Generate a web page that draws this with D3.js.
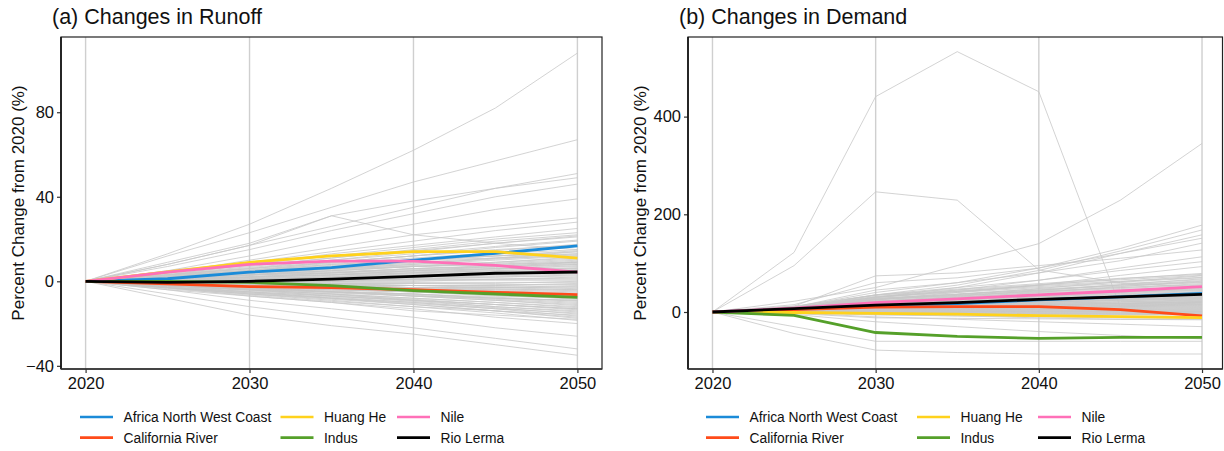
<!DOCTYPE html>
<html>
<head>
<meta charset="utf-8">
<script src="https://cdn.jsdelivr.net/npm/d3@7"></script>
<style>
  html, body { margin: 0; padding: 0; background: #fff; }
  svg { display: block; font-family: "Liberation Sans", Arial, sans-serif; }
</style>
</head>
<body>
<svg id="chart" width="1224" height="451"></svg>
<script>
// Projection years (5-year steps)
const years = [2020, 2025, 2030, 2035, 2040, 2045, 2050];
const yearTicks = [2020, 2030, 2040, 2050];

// Highlighted basins and their colours
const regions = ["Africa North West Coast", "California River", "Huang He", "Indus", "Nile", "Rio Lerma"];
const regionColors = ["#1B8BD8", "#FF4B1A", "#FFD21C", "#55A02A", "#FF70B8", "#000000"];

// Runoff change (%) for highlighted basins, in region order
const runoffAfrica = [0, 1.2, 4.3, 6.5, 10, 13.2, 16.8];
const runoffCalifornia = [0, -1.2, -2.5, -3, -4, -5.2, -6.3];
const runoffHuangHe = [0, 4.5, 9, 12, 14, 14, 11];
const runoffIndus = [0, 0, -0.5, -2, -4.4, -6, -7.6];
const runoffNile = [0, 4.3, 8, 9.5, 9.5, 7.5, 4.3];
const runoffRioLerma = [0, -0.5, 0, 1, 2.3, 3.8, 4.4];

// Demand change (%) for highlighted basins, in region order
const demandAfrica = [0, 6, 12, 17, 25, 31, 38];
const demandCalifornia = [0, 5, 10, 11, 11, 5, -8];
const demandHuangHe = [0, -1, -3, -4.5, -7.5, -9.5, -11.5];
const demandIndus = [0, -7, -42, -50, -54, -52, -52];
const demandNile = [0, 8, 19, 27, 35, 43, 52];
const demandRioLerma = [0, 7, 14, 19, 26, 31, 36];

// Runoff change (%) for all other basins
const runoffOthers = [
  [0, 13, 27, 44, 62, 82, 108],
  [0, 12, 23, 35, 47, 57, 67],
  [0, 8, 17, 26, 35, 44, 51],
  [0, 9, 18, 31, 38, 44, 49],
  [0, 7, 15, 24, 32, 40, 46],
  [0, 5, 12, 20, 27, 34, 39],
  [0, 8, 17, 31, 22, 18, 15],
  [0, 4, 10, 16, 22, 26, 30],
  [0, 5, 9, 14, 19, 24, 28],
  [0, 3, 8, 13, 17, 21, 25],
  [0, 4, 8, 12, 16, 20, 23],
  [0, 3, 6, 10, 14, 18, 21],
  [0, 2, 5, 9, 12, 16, 19],
  [0, 3, 6, 9, 12, 15, 17],
  [0, 2, 4, 7, 10, 13, 15],
  [0, 2, 5, 8, 10, 12, 14],
  [0, 1, 3, 6, 8, 11, 13],
  [0, 2, 4, 6, 8, 10, 12],
  [0, 1, 3, 5, 7, 9, 11],
  [0, 2, 3, 5, 7, 8, 10],
  [0, 1, 2, 4, 6, 7, 9],
  [0, 1, 2, 3, 5, 6, 8],
  [0, 1, 2, 3, 4, 6, 7],
  [0, 0, 1, 2, 4, 5, 6],
  [0, 1, 1, 2, 3, 4, 5],
  [0, 0, 1, 1, 2, 3, 4],
  [0, 0, 0, 1, 1, 2, 3],
  [0, 0, 0, 0, 1, 1, 2],
  [0, 0, 0, 0, 0, 1, 1],
  [0, 0, -1, -1, -1, -1, 0],
  [0, 0, -1, -1, -2, -2, -1],
  [0, -1, -1, -2, -2, -3, -2],
  [0, -1, -1, -2, -3, -3, -3],
  [0, -1, -2, -2, -3, -4, -4],
  [0, -1, -2, -3, -4, -4, -5],
  [0, -1, -2, -3, -4, -5, -6],
  [0, -1, -2, -4, -5, -6, -7],
  [0, -1, -3, -4, -5, -7, -8],
  [0, -2, -3, -5, -6, -8, -9],
  [0, -2, -3, -5, -7, -8, -10],
  [0, -2, -4, -5, -7, -9, -11],
  [0, -2, -4, -6, -8, -10, -12],
  [0, -2, -4, -7, -9, -11, -13],
  [0, -2, -5, -7, -9, -12, -14],
  [0, -3, -5, -8, -10, -13, -15],
  [0, -3, -6, -8, -11, -14, -16],
  [0, -3, -6, -9, -12, -14, -17],
  [0, -4, -7, -10, -13, -17, -20],
  [0, -4, -9, -13, -17, -22, -26],
  [0, -6, -12, -17, -22, -27, -32],
  [0, -8, -16, -21, -25, -30, -35],
  [0, -3, -7, -10, -14, -16, -18],
  [0, 2, 5, 7, 10, 11, 12],
  [0, 1, 3, 4, 6, 7, 8],
  [0, 3, 5, 8, 10, 12, 13],
  [0, -1, -3, -5, -6, -8, -9],
  [0, -2, -4, -6, -9, -11, -13],
  [0, 1, 2, 4, 5, 6, 6],
  [0, -1, -1, -2, -3, -3, -4],
  [0, 2, 4, 6, 7, 8, 9],
  [0, 3, 7, 11, 15, 19, 22],
  [0, 1, 4, 6, 9, 11, 14],
  [0, -1, -2, -3, -5, -6, -7],
  [0, 0, 2, 3, 5, 7, 9],
  [0, 3.5, 7.5, 11, 14.5, 18, 21.5],
  [0, 3, 6.5, 10, 13, 16.5, 19.5],
  [0, 3, 6, 9, 12, 14.5, 17.5],
  [0, 2.5, 5.5, 8.5, 11, 13.5, 16.5],
  [0, 2.5, 5, 7.5, 10, 12, 14.5],
  [0, 2, 4.5, 6.5, 8.5, 10.5, 12.5],
  [0, 2, 4, 5.5, 7.5, 9, 11.5],
  [0, 1.5, 3.5, 5, 7, 8.5, 10.5],
  [0, 1.5, 3, 4.5, 6, 7.5, 9.5],
  [0, 1.5, 3, 4, 5.5, 6.5, 8.5],
  [0, 1, 2.5, 3.5, 4.5, 5.5, 7.5],
  [0, 1, 2, 3, 4, 5, 6.5],
  [0, 1, 1.5, 2.5, 3.5, 4.5, 5.5],
  [0, 0.5, 1.5, 2, 3, 3.5, 4.5],
  [0, 0.5, 1, 1.5, 2, 2.5, 3.5],
  [0, 0.5, 0.5, 1, 1.5, 2, 2.5],
  [0, 0, 0.5, 0.5, 1, 1, 1.5],
  [0, 0, 0, 0, 0.5, 0.5, 0.5],
  [0, 0, -0.5, -0.5, -0.5, -0.5, -0.5],
  [0, 0, -0.5, -1, -1, -1.5, -1.5],
  [0, -0.5, -1, -1.5, -2, -2, -2.5],
  [0, -0.5, -1, -1.5, -2, -2.5, -3.5],
  [0, -0.5, -1.5, -2, -3, -3.5, -4.5],
  [0, -0.5, -1.5, -2.5, -3.5, -4.5, -5.5],
  [0, -1, -2, -3, -4, -5.5, -6.5],
  [0, -1, -2, -3.5, -4.5, -6, -7.5],
  [0, -1, -2.5, -4, -5, -6.5, -8.5],
  [0, -1.5, -3, -4.5, -6, -7.5, -9.5],
  [0, -1.5, -3.5, -5, -6.5, -8.5, -10.5],
  [0, -2, -3.5, -5.5, -7, -9, -11.5],
  [0, -2, -4, -6, -8, -10, -12.5],
  [0, -2, -4.5, -6.5, -8.5, -11, -13.5],
  [0, -2.5, -5, -7, -9.5, -12, -14.5],
  [0, -2.5, -5.5, -7.5, -10, -12.5, -15.5],
  [0, -3, -5.5, -8, -10.5, -13, -16.5],
  [0, -3, -6, -8.5, -11, -14, -17.5],
  [0, -3.5, -6.5, -9.5, -12, -15, -18.5]
];

// Demand change (%) for all other basins
const demandOthers = [
  [0, 122, 441, 533, 451, 10, 20],
  [0, 95, 246, 229, 86, 60, 50],
  [0, 22, 50, 95, 140, 229, 345],
  [0, 10, 40, 60, 90, 130, 178],
  [0, 12, 35, 55, 85, 125, 168],
  [0, 8, 30, 50, 80, 120, 158],
  [0, 15, 60, 70, 90, 120, 151],
  [0, 10, 45, 60, 80, 105, 141],
  [0, 12, 74, 80, 95, 110, 127],
  [0, 8, 30, 45, 65, 90, 113],
  [0, 9, 35, 50, 65, 85, 103],
  [0, 6, 25, 40, 55, 75, 93],
  [0, 7, 30, 42, 55, 68, 79],
  [0, 6, 25, 36, 48, 62, 74],
  [0, 5, 22, 32, 44, 56, 68],
  [0, 5, 20, 30, 40, 52, 63],
  [0, 6, 26, 34, 42, 50, 58],
  [0, 4, 18, 26, 35, 44, 53],
  [0, 4, 16, 24, 32, 40, 48],
  [0, 5, 20, 26, 32, 38, 44],
  [0, 3, 14, 20, 27, 34, 40],
  [0, 4, 15, 20, 25, 30, 35],
  [0, 3, 12, 17, 22, 27, 32],
  [0, 3, 11, 15, 20, 24, 28],
  [0, 2, 9, 13, 17, 21, 25],
  [0, 2, 8, 12, 15, 18, 22],
  [0, 3, 10, 12, 15, 17, 19],
  [0, 2, 6, 9, 11, 14, 16],
  [0, 2, 5, 7, 9, 11, 13],
  [0, 1, 4, 6, 7, 9, 10],
  [0, 1, 3, 4, 5, 6, 7],
  [0, 1, 2, 3, 3, 4, 4],
  [0, 0, 1, 1, 1, 1, 1],
  [0, 0, -1, -1, -2, -2, -2],
  [0, -1, -2, -3, -4, -5, -5],
  [0, -1, -3, -4, -5, -6, -6],
  [0, 2, 6, 8, 10, 12, 14],
  [0, 3, 12, 16, 20, 25, 30],
  [0, 4, 16, 22, 28, 34, 38],
  [0, 0, -5, -8, -12, -15, -16],
  [0, -2, -10, -15, -20, -25, -30],
  [0, -5, -20, -30, -40, -48, -55],
  [0, -30, -60, -60, -60, -60, -60],
  [0, -44, -78, -83, -86, -86, -86],
  [0, -3, -12, -13, -14, -15, -15],
  [0, 1, 6, 10, 14, 18, 21],
  [0, 3, 14, 19, 24, 29, 34],
  [0, 2, 8, 11, 14, 17, 20],
  [0, 5, 22, 28, 35, 42, 48],
  [0, -1, -4, -6, -8, -10, -12],
  [0, 6, 28, 36, 45, 55, 64],
  [0, 4, 12, 18, 24, 30, 36],
  [0, 2, 7, 10, 12, 15, 18],
  [0, 1, 5, 8, 10, 13, 15],
  [0, 0, 0, -2, -3, -4, -5],
  [0, -2, -6, -8, -10, -12, -13],
  [0, 9, 35, 47, 58, 69, 77],
  [0, 8, 34, 45, 56, 66, 75],
  [0, 9, 32, 43, 54, 63, 71],
  [0, 8, 31, 42, 52, 61, 70],
  [0, 8, 30, 40, 50, 58, 66],
  [0, 7, 28, 37, 47, 55, 61],
  [0, 7, 27, 36, 45, 53, 60],
  [0, 7, 26, 34, 43, 50, 56],
  [0, 6, 25, 33, 41, 48, 55],
  [0, 6, 23, 31, 39, 46, 51],
  [0, 6, 22, 30, 37, 44, 50],
  [0, 5, 21, 28, 35, 41, 46],
  [0, 5, 20, 27, 34, 40, 45],
  [0, 5, 19, 25, 31, 37, 42],
  [0, 5, 18, 24, 30, 35, 41],
  [0, 4, 17, 22, 28, 33, 37],
  [0, 4, 16, 21, 26, 31, 35],
  [0, 4, 15, 20, 25, 29, 33],
  [0, 4, 14, 19, 23, 27, 31],
  [0, 3, 13, 17, 22, 26, 29],
  [0, 3, 12, 16, 20, 24, 27],
  [0, 3, 12, 16, 19, 23, 26],
  [0, 3, 11, 14, 18, 21, 24],
  [0, 3, 10, 14, 17, 20, 23],
  [0, 2, 9, 13, 16, 18, 21],
  [0, 2, 9, 11, 14, 17, 19],
  [0, 2, 8, 10, 13, 15, 17],
  [0, 2, 7, 9, 11, 13, 15],
  [0, 1, 5, 7, 9, 11, 12],
  [0, 1, 5, 7, 8, 10, 11],
  [0, 1, 4, 5, 7, 8, 9],
  [0, 1, 4, 5, 6, 7, 8],
  [0, 1, 3, 4, 5, 5, 6],
  [0, 1, 2, 3, 4, 4, 5],
  [0, 0, 1, 2, 2, 3, 3],
  [0, 0, 1, 1, 2, 2, 2],
  [0, 0, 0, 0, 0, 0, 0],
  [0, 0, 0, -1, -1, -1, -1],
  [0, 0, -1, -2, -2, -3, -3],
  [0, 0, -2, -2, -3, -4, -4]
];

// Axis ticks
const runoffTicks = [-40, 0, 40, 80];
const demandTicks = [0, 200, 400];

const panels = [
  {
    title: "(a) Changes in Runoff",
    left: 61, right: 602, top: 37, bottom: 369,
    yDomain: [-41.5, 115.6], yTicks: runoffTicks,
    highlights: [runoffAfrica, runoffCalifornia, runoffHuangHe, runoffIndus, runoffNile, runoffRioLerma],
    others: runoffOthers,
    yTitleX: 24,
    legendX: [80, 280.5, 397]
  },
  {
    title: "(b) Changes in Demand",
    left: 688, right: 1226.5, frameRight: 1222.5, top: 37, bottom: 369,
    yDomain: [-116.7, 563], yTicks: demandTicks,
    highlights: [demandAfrica, demandCalifornia, demandHuangHe, demandIndus, demandNile, demandRioLerma],
    others: demandOthers,
    yTitleX: 646,
    legendX: [706, 917, 1038]
  }
];

const svg = d3.select("#chart");

panels.forEach(p => {
  const x = d3.scaleLinear().domain([2018.5, 2051.5]).range([p.left, p.right]);
  const y = d3.scaleLinear().domain(p.yDomain).range([p.bottom, p.top]);
  const frameRight = p.frameRight || p.right;
  const g = svg.append("g");

  // vertical grid lines
  g.selectAll("line.grid").data(yearTicks).join("line")
    .attr("class", "grid")
    .attr("x1", d => x(d)).attr("x2", d => x(d))
    .attr("y1", p.top).attr("y2", p.bottom)
    .attr("stroke", "#cfcfcf").attr("stroke-width", 1.4);

  const line = d3.line().x((d, i) => x(years[i])).y(d => y(d));

  // all basins in grey
  g.append("g").selectAll("path").data(p.others).join("path")
    .attr("d", line)
    .attr("fill", "none")
    .attr("stroke", "#c8c8c8")
    .attr("stroke-width", 0.8);

  // highlighted basins
  g.append("g").selectAll("path").data(p.highlights).join("path")
    .attr("d", line)
    .attr("fill", "none")
    .attr("stroke", (d, i) => regionColors[i])
    .attr("stroke-width", 2.8)
    .attr("stroke-linejoin", "round");

  // panel frame
  g.append("rect")
    .attr("x", p.left).attr("y", p.top)
    .attr("width", frameRight - p.left).attr("height", p.bottom - p.top)
    .attr("fill", "none").attr("stroke", "#222").attr("stroke-width", 1.2);

  // axes
  const xAxis = d3.axisBottom(x).tickValues(yearTicks).tickFormat(d3.format("d")).tickSize(4).tickPadding(4);
  const gx = g.append("g").attr("transform", `translate(0,${p.bottom})`).call(xAxis);
  gx.select(".domain").remove();
  gx.selectAll(".tick line").attr("stroke", "#333").attr("stroke-width", 1.2);
  gx.selectAll(".tick text").attr("font-size", 16.5).attr("fill", "#111")
    .attr("font-family", "Liberation Sans, Arial, sans-serif");

  const yAxis = d3.axisLeft(y).tickValues(p.yTicks).tickSize(4).tickPadding(3);
  const gy = g.append("g").attr("transform", `translate(${p.left},0)`).call(yAxis);
  gy.select(".domain").remove();
  gy.selectAll(".tick line").attr("stroke", "#333").attr("stroke-width", 1.2);
  gy.selectAll(".tick text").attr("font-size", 16.5).attr("fill", "#111")
    .attr("font-family", "Liberation Sans, Arial, sans-serif");

  // axis lines
  g.append("line").attr("x1", p.left).attr("x2", p.left).attr("y1", p.top).attr("y2", p.bottom)
    .attr("stroke", "#111").attr("stroke-width", 1.6);
  g.append("line").attr("x1", p.left).attr("x2", frameRight).attr("y1", p.bottom).attr("y2", p.bottom)
    .attr("stroke", "#333").attr("stroke-width", 1.6);

  // titles
  g.append("text").attr("x", p.left - 9).attr("y", 24)
    .attr("font-size", 21.5).attr("fill", "#111").text(p.title);

  g.append("text")
    .attr("transform", `translate(${p.yTitleX},${(p.top + p.bottom) / 2}) rotate(-90)`)
    .attr("text-anchor", "middle")
    .attr("font-size", 17).attr("fill", "#111")
    .text("Percent Change from 2020 (%)");

  // legend: three columns, two rows
  const legend = g.append("g");
  regions.forEach((name, i) => {
    const col = Math.floor(i / 2), row = i % 2;
    const lx = p.legendX[col];
    const ly = 417 + row * 20.6;
    legend.append("line")
      .attr("x1", lx).attr("x2", lx + 33).attr("y1", ly).attr("y2", ly)
      .attr("stroke", regionColors[i]).attr("stroke-width", 2.6);
    legend.append("text")
      .attr("x", lx + 43.5).attr("y", ly + 5)
      .attr("font-size", 13.8).attr("fill", "#111")
      .text(name);
  });
});
</script>
</body>
</html>
